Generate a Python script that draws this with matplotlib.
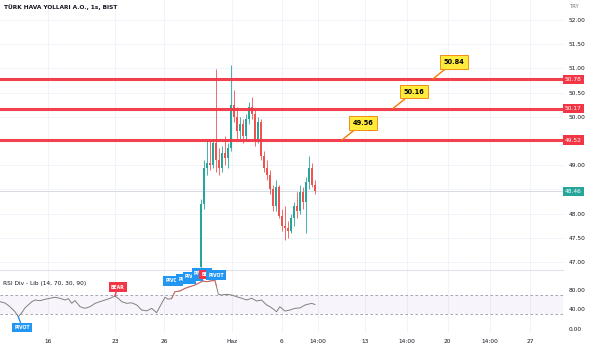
import matplotlib.pyplot as plt
from matplotlib.transforms import blended_transform_factory

# ---- data -------------------------------------------------------------
title = "TÜRK HAVA YOLLARI A.O., 1s, BIST"
rsi_title = "RSI Div - Lib (14, 70, 30, 90)"

first_bar = 67
opens = [46.90, 48.20, 48.95, 49.05, 49.00, 49.45, 49.10, 48.95, 49.25, 49.15,
         49.35, 50.25, 50.00, 49.70, 49.85, 49.60, 49.95, 50.20, 50.05, 49.55,
         49.90, 49.20, 48.95, 48.80, 48.50, 48.15, 48.55, 47.95, 47.75, 47.70,
         47.65, 47.90, 48.15, 48.05, 48.45, 48.25, 48.65, 48.95, 48.60]
highs = [48.30, 49.10, 49.55, 49.50, 49.55, 50.98, 49.35, 49.40, 49.60, 49.45,
         51.08, 50.55, 50.20, 50.00, 49.95, 50.05, 50.30, 50.40, 50.15, 50.00,
         49.95, 49.30, 49.10, 48.90, 48.60, 48.70, 48.60, 48.10, 48.15, 47.85,
         48.00, 48.25, 48.45, 48.60, 48.55, 48.75, 49.20, 49.05, 48.70]
lows = [46.60, 48.10, 48.80, 48.90, 48.95, 48.85, 48.80, 48.85, 49.00, 48.95,
        49.30, 49.90, 49.55, 49.50, 49.45, 49.50, 49.85, 49.95, 49.40, 49.45,
        49.10, 48.85, 48.70, 48.40, 48.05, 48.05, 47.90, 47.65, 47.45, 47.50,
        47.60, 47.75, 47.90, 48.00, 48.10, 47.60, 48.50, 48.55, 48.40]
closes = [48.20, 48.95, 49.05, 49.00, 49.45, 49.10, 48.95, 49.25, 49.15, 49.35,
          50.25, 50.00, 49.70, 49.85, 49.60, 49.95, 50.20, 50.05, 49.55, 49.90,
          49.20, 48.95, 48.80, 48.50, 48.15, 48.55, 47.95, 47.75, 47.70, 47.65,
          47.90, 48.15, 48.05, 48.45, 48.25, 48.65, 48.95, 48.60, 48.46]
last_price = 48.46

levels = [50.78, 50.17, 49.52]
callout_values = ["50.84", "50.16", "49.56"]
callout_bars = [144.3, 131.0, 114.0]

rsi_x = [0, 1.7, 3.3, 5, 6.1, 7.2, 8.3, 9.4, 10.6, 11.7, 13.3, 15, 16.7, 18.3,
         20, 21.7, 22.8, 23.9, 25, 26.7, 28.3, 30, 31.7, 33.3, 35, 36.7, 38.3,
         39.4, 40.6, 42.2, 43.9, 45.6, 47.2, 48.9, 50.6, 52.2, 53.9, 55, 56,
         57.2, 58.3, 60, 61.7, 63.3, 65, 66.1, 67.7, 68.9, 70.6, 71.7, 72.2,
         72.8, 73.9, 75.6, 77.2, 78.9, 80.6, 82.2, 83.9, 85.6, 87.2, 88.9, 90,
         91.1, 92.2, 93.3, 95, 96.7, 98.3, 100, 101.7, 103.9, 105]
rsi = [55.7, 53.0, 45.5, 35.3, 25.1, 32.7, 42.9, 49.0, 55.7, 59.2, 57.8, 60.6,
       62.7, 64.7, 62.7, 59.2, 62.0, 52.4, 58.0, 45.5, 42.2, 45.5, 52.4, 55.7,
       59.2, 62.7, 67.3, 62.7, 55.7, 52.4, 53.5, 49.0, 38.8, 37.0, 42.0, 33.3,
       52.4, 64.7, 61.0, 62.0, 76.0, 77.6, 83.0, 86.3, 89.8, 93.3, 98.0, 96.5,
       98.5, 98.8, 86.3, 70.8, 69.4, 70.8, 69.4, 65.9, 62.7, 59.2, 62.7, 57.1,
       59.2, 49.0, 45.5, 40.8, 35.3, 45.5, 36.7, 38.8, 42.2, 43.0, 49.0, 52.4,
       50.0]
rsi_red_from, rsi_red_to = 57.2, 72.2

pivot_low_i = 4
bear_i = 26
stack_labels = [("PIVOT", 57.8, 98, "#2196f3"), ("PIVOT", 62.0, 102, "#2196f3"),
                ("PIVOT", 64.3, 107, "#2196f3"), ("PIVOT", 67.3, 114, "#2196f3"),
                ("BEAR", 69.5, 111, "#f23645"), ("PIVOT", 72.0, 110, "#2196f3")]

xtick_pos = [16.1, 38.3, 54.7, 77.2, 93.9, 106, 121.7, 135.6, 149.3, 163.3, 176.7]
xtick_lab = ["16", "23", "26", "Haz", "6", "14:00", "13", "14:00", "20", "14:00", "27"]
price_ticks = [47, 47.5, 48, 48.5, 49, 49.5, 50, 50.5, 51, 51.5, 52]
hidden_ticks = [48.5, 49.5]  # covered by the level labels in the original
rsi_ticks = [0, 40, 80]

# ---- style ------------------------------------------------------------
up, down = "#26a69a", "#ef5350"
line_red = "#f23645"
txt = "#131722"
grid = "#f0f3fa"
fs = 4.2

fig = plt.figure(figsize=(5.93, 3.5), dpi=100)
ax = fig.add_axes([0, 1 - 270 / 350, 563 / 593, 270 / 350])
ax_r = fig.add_axes([0, 1 - 332 / 350, 563 / 593, 62 / 350], sharex=ax)

for a in (ax, ax_r):
    for s in a.spines.values():
        s.set_visible(False)
    a.yaxis.tick_right()
    a.tick_params(axis="both", length=0, labelsize=fs, colors=txt)
    a.set_xticks(xtick_pos)
    a.grid(True, axis="x", color=grid, lw=0.7)
    a.set_axisbelow(True)
ax.tick_params(labelbottom=False, pad=4)
ax_r.tick_params(axis="y", pad=4)
ax_r.tick_params(axis="x", pad=5)
ax_r.set_xticklabels(xtick_lab)
ax.set_xlim(0, 187.7)
ax.set_ylim(46.835, 52.413)
ax.set_yticks(price_ticks)
ax.set_yticklabels(["" if v in hidden_ticks else f"{v:.2f}" for v in price_ticks])
ax.grid(True, axis="y", color=grid, lw=0.7)

# separator between panes
ax_r.axhline(120.4, color="#e0e3eb", lw=0.8, clip_on=False)

ax.text(0.007, 0.985, title, transform=ax.transAxes, fontsize=fs, color=txt,
        ha="left", va="top", fontweight="bold")
fig.text(570 / 593, 1 - 7 / 350, "TRY", fontsize=fs - 0.4, color="#787b86",
         ha="left", va="center")

# ---- candles ----------------------------------------------------------
bars = [first_bar + i for i in range(len(opens))]
cols = [up if c >= o else down for o, c in zip(opens, closes)]
ax.vlines(bars, lows, highs, colors=cols, lw=0.6, zorder=3)
ax.bar(bars, [max(abs(c - o), 0.02) for o, c in zip(opens, closes)],
       bottom=[min(o, c) for o, c in zip(opens, closes)], width=0.7,
       color=cols, zorder=3)

ax.axhline(last_price, color="#d1d4dc", lw=0.6, zorder=2)

# ---- horizontal levels ------------------------------------------------
ytr = blended_transform_factory(ax.transAxes, ax.transData)
for lv in levels:
    ax.axhline(lv, color=line_red, lw=2.2, alpha=0.95, zorder=4)
    ax.text(1.0035, lv, f"{lv:.2f}", transform=ytr, fontsize=fs, color="white",
            ha="left", va="center", zorder=6, clip_on=False,
            bbox=dict(boxstyle="square,pad=0.35", fc=line_red, ec="none"))
ax.text(1.0035, last_price, f"{last_price:.2f}", transform=ytr, fontsize=fs,
        color="white", ha="left", va="center", zorder=6, clip_on=False,
        bbox=dict(boxstyle="square,pad=0.35", fc=up, ec="none"))

for lv, lab, bx in zip(levels, callout_values, callout_bars):
    ax.annotate(lab, xy=(bx, lv), xytext=(21, 17), textcoords="offset pixels",
                fontsize=fs + 0.6, fontweight="bold", color="black",
                ha="center", va="center", zorder=7,
                bbox=dict(boxstyle="square,pad=0.55", fc="#ffeb3b", ec="#f57c00", lw=0.6),
                arrowprops=dict(arrowstyle="-", color="#f57c00", lw=1.0,
                                shrinkA=0, shrinkB=0))

# ---- RSI pane ---------------------------------------------------------
ax_r.set_ylim(-6.1, 120.4)
ax_r.set_yticks(rsi_ticks)
ax_r.set_yticklabels([f"{v:.2f}" for v in rsi_ticks])
ax_r.axhspan(30, 70, color="#7e57c2", alpha=0.06, lw=0)
for lv in (70, 30):
    ax_r.axhline(lv, color="#9598a1", lw=0.6, ls=(0, (3, 3)))
ax_r.plot(rsi_x, rsi, color="#808080", lw=0.7, zorder=3)
red_x = [x for x in rsi_x if rsi_red_from <= x <= rsi_red_to]
red_y = [v for x, v in zip(rsi_x, rsi) if rsi_red_from <= x <= rsi_red_to]
ax_r.plot(red_x, red_y, color=down, lw=0.7, alpha=0.7, zorder=4)

ax_r.text(0.006, 0.78, rsi_title, transform=ax_r.transAxes, fontsize=fs,
          color=txt, ha="left", va="center")

lab_kw = dict(fontsize=fs - 0.9, fontweight="bold", color="white", ha="center",
              va="center", clip_on=False)
ax_r.annotate("PIVOT", xy=(rsi_x[pivot_low_i], rsi[pivot_low_i]),
              xytext=(4, -11), textcoords="offset pixels", zorder=6,
              bbox=dict(boxstyle="square,pad=0.5", fc="#2196f3", ec="none"),
              arrowprops=dict(arrowstyle="-", color="#2196f3", lw=1.0,
                              shrinkA=0, shrinkB=0), **lab_kw)
ax_r.annotate("BEAR", xy=(rsi_x[bear_i], rsi[bear_i]),
              xytext=(3, 9), textcoords="offset pixels", zorder=6,
              bbox=dict(boxstyle="square,pad=0.5", fc=line_red, ec="none"),
              arrowprops=dict(arrowstyle="-", color=line_red, lw=1.0,
                              shrinkA=0, shrinkB=0), **lab_kw)
for k, (lab, bx, by, c) in enumerate(stack_labels):
    ax_r.text(bx, by, lab, zorder=6 + k,
              bbox=dict(boxstyle="square,pad=0.5", fc=c, ec="none"), **lab_kw)

fig.savefig("out.png", dpi=100, facecolor="white")
